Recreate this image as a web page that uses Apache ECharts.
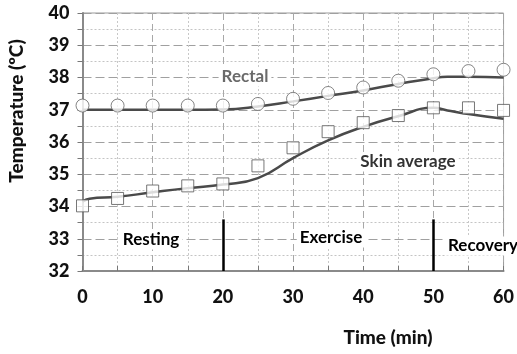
<!DOCTYPE html>
<html>
<head>
  <meta charset="UTF-8" />
  <title>Temperatura</title>
  <script src="https://cdn.jsdelivr.net/npm/echarts@6/dist/echarts.min.js"></script>
  <style>
    html, body { margin: 0; padding: 0; background: #fff; }
    #chart { width: 517px; height: 354px; }
  </style>
</head>
<body>
  <div id="chart"></div>
  <script>
    // observed points
    var obsTime = [0, 5, 10, 15, 20, 25, 30, 35, 40, 45, 50, 55, 60];
    var rectalObs = [37.13, 37.13, 37.13, 37.13, 37.13, 37.18, 37.34, 37.52, 37.69, 37.90, 38.10, 38.20, 38.24];
    var skinObs = [34.02, 34.25, 34.48, 34.64, 34.70, 35.26, 35.82, 36.32, 36.60, 36.82, 37.06, 37.06, 36.98];

    // fitted curves
    var fitTime = [0, 1, 5, 10, 15, 20, 25, 30, 35, 40, 45, 50, 52, 55, 60];
    var rectalFit = [37.0, 37.0, 37.0, 37.0, 37.0, 37.01, 37.1, 37.26, 37.43, 37.6, 37.8, 37.98, 38.02, 38.02, 38.0];
    var skinFit = [34.15, 34.24, 34.3, 34.44, 34.57, 34.68, 34.88, 35.5, 36.05, 36.47, 36.8, 37.06, 36.98, 36.87, 36.72];

    var phaseBounds = [20, 50];
    var phaseTop = 33.6;

    var chart = echarts.init(document.getElementById('chart'));
    var font = "Lato, 'Open Sans', sans-serif";

    function pairs(xs, ys) {
      return xs.map(function (x, i) { return [x, ys[i]]; });
    }

    // etiqueta con fondo blanco (tapa la cuadricula como en el original)
    function label(text, x, y, color) {
      return {
        type: 'text', x: x, y: y, z: 100,
        style: {
          text: text, font: 'bold 17px ' + font, fill: color,
          align: 'center', verticalAlign: 'middle',
          backgroundColor: '#fff', padding: [1, 3]
        }
      };
    }

    var option = {
      animation: false,
      grid: {
        left: 82.5, right: 8, top: 13, bottom: 83,
        show: true, borderColor: '#9a9a9a', borderWidth: 1
      },
      xAxis: {
        type: 'value', min: 0, max: 60, interval: 10,
        axisLine: { lineStyle: { color: '#8a8a8a', width: 2 } },
        axisTick: { inside: true, length: 5, lineStyle: { color: '#777' } },
        minorTick: { show: true, splitNumber: 2, length: 5, lineStyle: { color: '#777' } },
        splitLine: { show: true, lineStyle: { color: '#a8a8a8', width: 1, type: [7, 4] } },
        minorSplitLine: { show: true, lineStyle: { color: '#c8c8c8', width: 1, type: [2, 2] } },
        axisLabel: { fontFamily: font, fontWeight: 900, fontSize: 18, color: '#111', margin: 17 }
      },
      yAxis: {
        type: 'value', min: 32, max: 40, interval: 1,
        axisLine: { show: true, lineStyle: { color: '#8a8a8a', width: 2 } },
        axisTick: { show: true, length: 5, lineStyle: { color: '#777' } },
        minorTick: { show: true, splitNumber: 2, length: 5, lineStyle: { color: '#777' } },
        splitLine: { show: true, lineStyle: { color: '#a0a0a0', width: 1, type: [9, 4] } },
        minorSplitLine: { show: true, lineStyle: { color: '#c4c4c4', width: 1, type: [2, 2] } },
        axisLabel: { fontFamily: font, fontWeight: 900, fontSize: 18, color: '#111', margin: 13 }
      },
      series: [
        {
          type: 'line', data: pairs(fitTime, rectalFit), smooth: true, showSymbol: false,
          lineStyle: { color: '#4a4a4a', width: 2.5 }, z: 2
        },
        {
          type: 'line', data: pairs(fitTime, skinFit), smooth: true, showSymbol: false,
          lineStyle: { color: '#4a4a4a', width: 2.5 }, z: 2
        },
        {
          type: 'scatter', data: pairs(obsTime, rectalObs), symbol: 'circle', symbolSize: 13,
          itemStyle: { color: '#fff', borderColor: '#666', borderWidth: 1 }, z: 3
        },
        {
          type: 'scatter', data: pairs(obsTime, skinObs), symbol: 'rect', symbolSize: 12,
          itemStyle: { color: '#fff', borderColor: '#555', borderWidth: 1 }, z: 3
        },
        {
          type: 'line', data: [], z: 4,
          markLine: {
            symbol: 'none', silent: true, label: { show: false },
            lineStyle: { color: '#000', width: 2.5, type: 'solid' },
            data: phaseBounds.map(function (t) {
              return [{ coord: [t, 32] }, { coord: [t, phaseTop] }];
            })
          }
        }
      ],
      graphic: [
        { type: 'text', x: 17, y: 111, rotation: Math.PI / 2,
          style: { text: 'Temperature (ºC)', font: '900 19px ' + font, fill: '#111', align: 'center', verticalAlign: 'middle' } },
        { type: 'text', x: 388, y: 338,
          style: { text: 'Time (min)', font: '900 19px ' + font, fill: '#111', align: 'center', verticalAlign: 'middle' } },
        label('Rectal', 245, 77, '#6a6a6a'),
        label('Skin average', 408, 162, '#333'),
        label('Resting', 151, 240, '#000'),
        label('Exercise', 331, 238, '#000'),
        label('Recovery', 483, 246, '#000')
      ]
    };
    chart.setOption(option);
  </script>
</body>
</html>
